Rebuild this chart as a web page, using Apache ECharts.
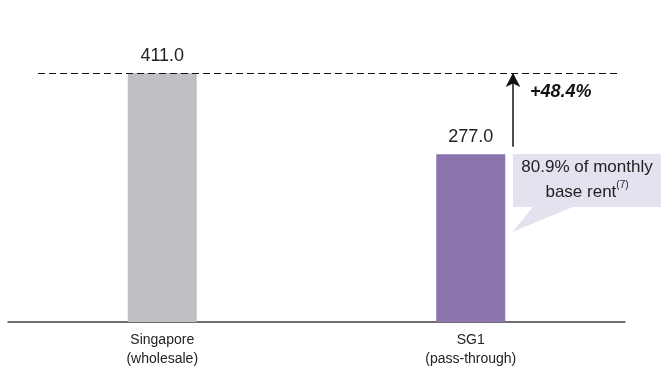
<!DOCTYPE html>
<html>
<head>
<meta charset="utf-8">
<script src="https://cdn.jsdelivr.net/npm/echarts@6/dist/echarts.min.js"></script>
<style>
html,body{margin:0;padding:0;background:#fff;}
#chart{width:662px;height:372px;}
</style>
</head>
<body>
<div id="chart"></div>
<script>
// 数据
var categories = ['Singapore\n(wholesale)', 'SG1\n(pass-through)'];
var values = [411.0, 277.0];
var barColors = ['#c0bfc4', '#8c74ad'];
var growthText = '+48.4%';
var calloutLines = ['80.9% of monthly', 'base rent'];

var myChart = echarts.init(document.getElementById('chart'));
var font = 'Liberation Sans, Arial, sans-serif';

var option = {
    animation: false,
    grid: { left: 8, right: 37, top: 19, bottom: 50 },
    xAxis: {
        type: 'category',
        data: categories,
        axisLine: { lineStyle: { color: '#404040', width: 1.5 } },
        axisTick: { show: false },
        axisLabel: { color: '#222', fontFamily: font, fontSize: 14, lineHeight: 19, margin: 9 }
    },
    yAxis: {
        type: 'value',
        min: 0,
        max: 500,
        show: false
    },
    series: [{
        type: 'bar',
        barWidth: 69,
        data: values.map(function (v, i) {
            return { value: v, itemStyle: { color: barColors[i] } };
        }),
        label: {
            show: true,
            position: 'top',
            distance: 8,
            color: '#222',
            fontFamily: font,
            fontSize: 18,
            formatter: function (p) { return p.value.toFixed(1); }
        },
        markLine: {
            silent: true,
            animation: false,
            label: { show: false },
            data: [
                // 虚线 411
                [{ x: 38, yAxis: values[0], symbol: 'none', lineStyle: { color: '#111', type: [7, 4], width: 1.2 } },
                 { x: 618, yAxis: values[0], symbol: 'none' }],
                // 箭头
                [{ x: 513, yAxis: 289, symbol: 'none', lineStyle: { color: '#111', type: 'solid', width: 1.5 } },
                 { x: 513, yAxis: values[0], symbol: 'arrow', symbolSize: [11, 14] }]
            ]
        }
    }],
    graphic: [
        {
            type: 'text',
            left: 530, top: 83,
            style: { text: growthText, fill: '#111', font: 'italic bold 18px ' + font }
        },
        {
            type: 'polygon',
            shape: { points: [[513, 154], [661, 154], [661, 207], [573, 207], [512, 232], [533, 207], [513, 207]] },
            style: { fill: '#e6e1ef' }
        },
        {
            type: 'text',
            x: 587, y: 180,
            style: {
                text: calloutLines[0] + '\n' + calloutLines[1] + '{sup|(7)}',
                align: 'center', verticalAlign: 'middle',
                fill: '#222', font: '17px ' + font, lineHeight: 25,
                rich: { sup: { fontSize: 10, fontFamily: font, fill: '#222', verticalAlign: 'top', padding: [0, 0, 8, 0] } }
            }
        }
    ]
};
myChart.setOption(option);
</script>
</body>
</html>
